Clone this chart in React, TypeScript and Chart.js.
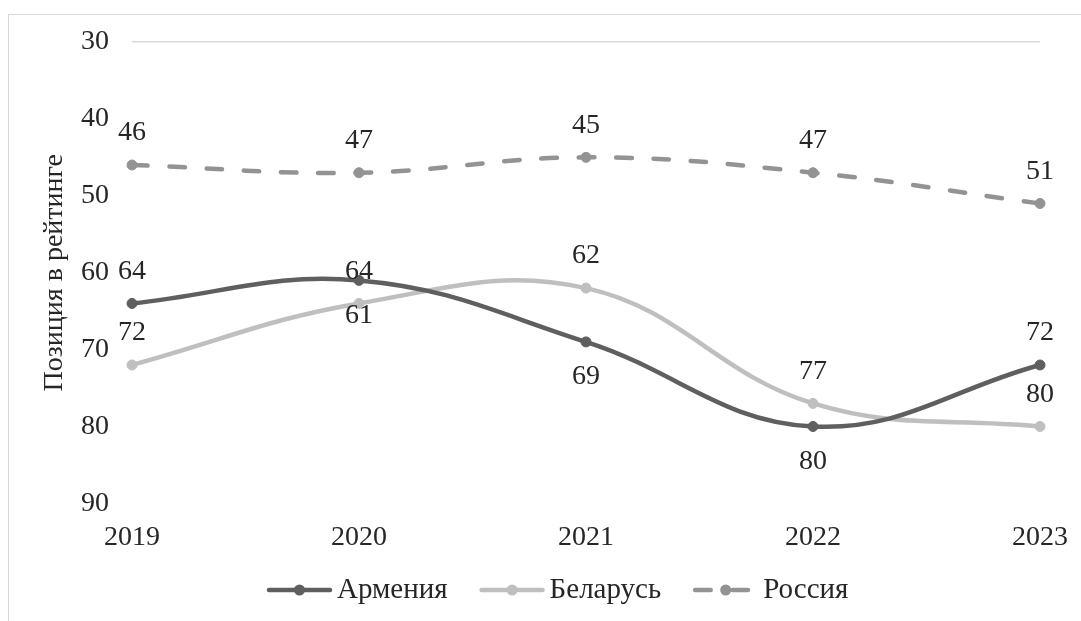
import { useEffect, useRef } from "react";
import { Chart, registerables } from "chart.js";

Chart.register(...registerables);

// ---- data ----
const years = ["2019", "2020", "2021", "2022", "2023"];
const armenia = [64, 61, 69, 80, 72];
const belarus = [72, 64, 62, 77, 80];
const russia = [46, 47, 45, 47, 51];
const seriesNames = ["Армения", "Беларусь", "Россия"];
const yTickValues = [30, 40, 50, 60, 70, 80, 90];
const axisTitle = "Позиция в рейтинге";
// where each value label sits relative to its point
const armeniaLabelSide = ["above", "below", "below", "below", "above"];
const belarusLabelSide = ["above", "above", "above", "above", "above"];
const russiaLabelSide = ["above", "above", "above", "above", "above"];

const FONT = '"Liberation Serif", "Times New Roman", serif';
const TEXT = "#262626";
const colors = ["#5f5f5f", "#bfbfbf", "#939393"];
const dashes: number[][] = [[], [], [15.5, 21.8]];
const labelSides = [armeniaLabelSide, belarusLabelSide, russiaLabelSide];

const dataLabelPlugin = {
  id: "valueLabels",
  afterDatasetsDraw(chart: any) {
    const ctx = chart.ctx;
    ctx.save();
    ctx.font = `28px ${FONT}`;
    ctx.fillStyle = TEXT;
    ctx.textAlign = "center";
    ctx.textBaseline = "middle";
    chart.data.datasets.forEach((ds: any, i: number) => {
      const meta = chart.getDatasetMeta(i);
      meta.data.forEach((pt: any, j: number) => {
        const dy = labelSides[i][j] === "above" ? -32 : 35;
        ctx.fillText(String(ds.data[j]), pt.x, pt.y + dy);
      });
    });
    ctx.restore();
  },
};

const legendPlugin = {
  id: "customLegend",
  afterDraw(chart: any) {
    const ctx = chart.ctx;
    ctx.save();
    ctx.font = `29px ${FONT}`;
    ctx.textBaseline = "middle";
    ctx.textAlign = "left";
    let x = 258;
    const y = 575;
    chart.data.datasets.forEach((ds: any) => {
      ctx.strokeStyle = ds.borderColor;
      ctx.lineWidth = 4.5;
      ctx.lineCap = "round";
      ctx.setLineDash(ds.borderDash || []);
      ctx.beginPath();
      ctx.moveTo(x + 2, y);
      ctx.lineTo(x + 63, y);
      ctx.stroke();
      ctx.setLineDash([]);
      ctx.fillStyle = ds.borderColor;
      ctx.beginPath();
      ctx.arc(x + 32.5, y, 5.5, 0, Math.PI * 2);
      ctx.fill();
      ctx.fillStyle = TEXT;
      ctx.fillText(ds.label, x + 70, y);
      const w = ctx.measureText(ds.label).width;
      x += 70 + w + 32;
    });
    ctx.restore();
  },
};

export default function App() {
  const ref = useRef<HTMLCanvasElement | null>(null);

  useEffect(() => {
    if (!ref.current) return;
    const seriesData = [armenia, belarus, russia];
    const chart = new Chart(ref.current, {
      type: "line",
      data: {
        labels: years,
        datasets: seriesData.map((d, i) => ({
          label: seriesNames[i],
          data: d,
          borderColor: colors[i],
          backgroundColor: colors[i],
          pointBackgroundColor: colors[i],
          pointBorderColor: colors[i],
          borderWidth: 4.5,
          borderDash: dashes[i],
          borderCapStyle: "round" as const,
          pointRadius: 5,
          pointBorderWidth: 1,
          tension: 0.4,
          fill: false,
          clip: false as any,
        })),
      },
      options: {
        responsive: false,
        animation: false,
        devicePixelRatio: 1,
        layout: { padding: { top: 27, right: 41, left: 29, bottom: 58 } },
        plugins: {
          legend: { display: false },
          tooltip: { enabled: false },
        },
        scales: {
          x: {
            offset: false,
            grid: { display: false },
            border: { display: false },
            afterFit: (scale: any) => {
              scale.paddingLeft = 0;
              scale.paddingRight = 0;
            },
            ticks: {
              padding: 9,
              color: TEXT,
              font: { family: FONT, size: 28 },
              maxRotation: 0,
            },
          },
          y: {
            reverse: true,
            min: 30,
            max: 90,
            afterBuildTicks: (scale: any) => {
              scale.ticks = yTickValues.map((v) => ({ value: v }));
            },
            afterFit: (scale: any) => {
              scale.width = 94;
              scale.paddingTop = 0;
              scale.paddingBottom = 0;
            },
            grid: {
              drawTicks: false,
              color: (c: any) => (c.tick && c.tick.value === 30 ? "#d9d9d9" : "rgba(0,0,0,0)"),
              lineWidth: 1.5,
            },
            border: { display: false },
            ticks: {
              padding: 23,
              color: TEXT,
              font: { family: FONT, size: 28 },
            },
            title: {
              display: true,
              text: axisTitle,
              color: TEXT,
              font: { family: FONT, size: 28 },
              padding: 0,
            },
          },
        },
      },
      plugins: [dataLabelPlugin, legendPlugin],
    });
    return () => chart.destroy();
  }, []);

  return (
    <div
      style={{
        position: "absolute",
        left: 8,
        top: 14,
        width: 1073,
        height: 607,
        boxSizing: "border-box",
        borderTop: "1px solid #d9d9d9",
        borderLeft: "1px solid #d9d9d9",
        background: "#fff",
        overflow: "hidden",
      }}
    >
      <canvas
        ref={ref}
        width={1072}
        height={606}
        style={{ display: "block", width: 1072, height: 606 }}
      />
    </div>
  );
}
